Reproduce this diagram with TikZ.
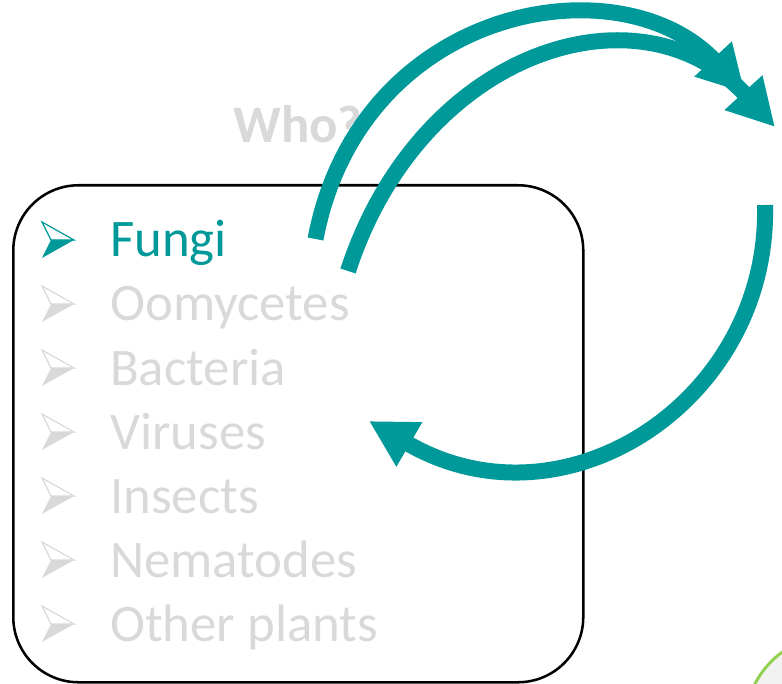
\documentclass[tikz,border=0pt]{standalone}
\usepackage{fontspec}
\setmainfont{Carlito}
\usetikzlibrary{arrows.meta}
\definecolor{teal1}{RGB}{0,153,153}
\definecolor{lgray}{RGB}{217,217,217}
\definecolor{lgreen}{RGB}{146,208,80}
\begin{document}
\begin{tikzpicture}[x=0.75pt,y=-0.75pt,
  item/.style={anchor=base west, inner sep=0pt, font=\fontsize{39.6pt}{40pt}\selectfont},
  bigarrow/.style={line width=12pt, draw=teal1, -{Triangle[length=35pt,width=36pt]}},
  box/.style={draw=black, line width=1.9pt, rounded corners=49pt},
]
\useasboundingbox (0,0) rectangle (782,684);
% partial green circle
\filldraw[fill=black!5, draw=lgreen, line width=2.2pt] (835,725) circle (67.5pt);
% title
\node[item, text=lgray, font=\bfseries\fontsize{39.6pt}{40pt}\selectfont] (who) at (233,143) {Who?};
% box
\node[box, minimum width=427.5pt, minimum height=372.75pt, anchor=north west, inner sep=0pt] (box) at (12,184) {};
% bullets and items
\newcommand{\bulletmark}[3]{%
  \begin{scope}[shift={(#1,#2)}]
    \draw[draw=#3, line width=0.9pt, line join=miter] (0,0) -- (32,18) -- (9,18) -- cycle;
    \fill[#3] (9,18) -- (32,18) -- (0,36) -- cycle;
  \end{scope}}
\bulletmark{42}{222}{teal1}
\node[item, text=teal1] (i0) at (110,257) {Fungi};
\foreach \t [count=\i] in {Oomycetes,Bacteria,Viruses,Insects,Nematodes,Other plants}{
  \bulletmark{42}{222+64*\i}{lgray}
  \node[item, text=lgray] (i\i) at (110,257+64*\i) {\t};
}
% arcs
\coordinate (a1s) at (315.5,239);
\coordinate (a1e) at (745,93);
\coordinate (a2s) at (348,271);
\coordinate (a2e) at (775,127);
\coordinate (a3s) at (765,205);
\coordinate (a3e) at (369,421);
\draw[bigarrow] (a1s) .. controls (360,5) and (620,-40) .. (a1e);
\draw[bigarrow] (a2s) .. controls (420,50) and (640,-20) .. (a2e);
\draw[bigarrow] (a3s) .. controls (770,400) and (565,535) .. (a3e);
\end{tikzpicture}
\end{document}
